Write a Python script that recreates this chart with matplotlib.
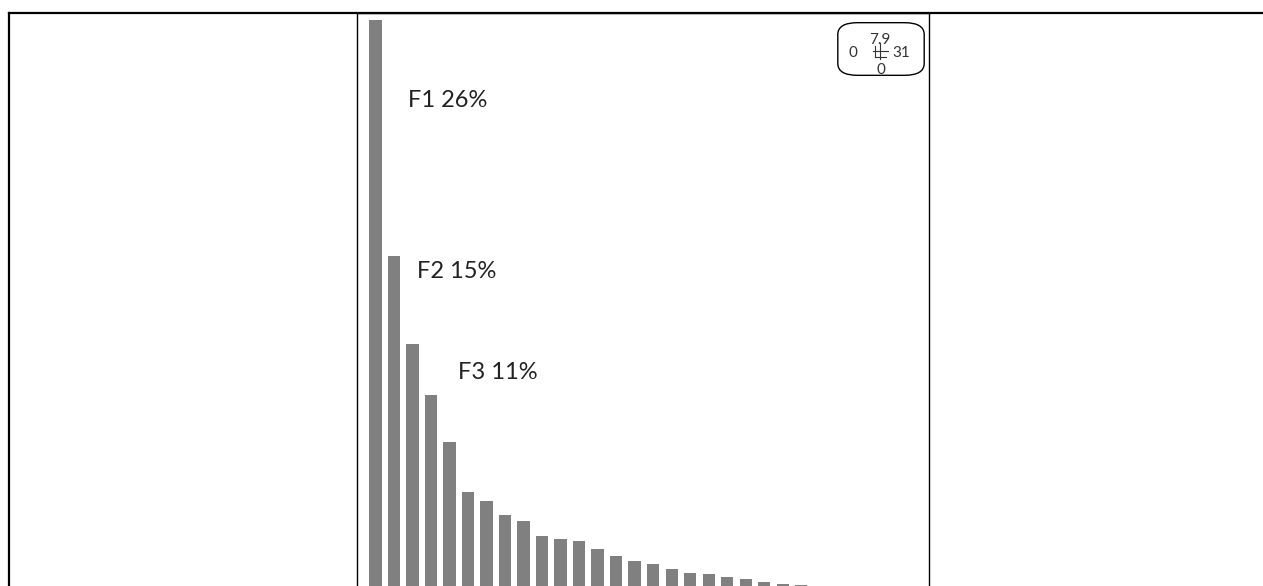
import numpy as np
import matplotlib
matplotlib.use('Agg')
import matplotlib.pyplot as plt
from matplotlib.patches import FancyBboxPatch
from matplotlib.lines import Line2D

# eigenvalues of the analysis (screeplot)
eigvals = [7.90, 4.62, 3.39, 2.69, 2.03, 1.34, 1.21, 1.01, 0.93, 0.73,
           0.68, 0.65, 0.54, 0.44, 0.38, 0.34, 0.26, 0.21, 0.19, 0.15,
           0.13, 0.09, 0.06, 0.04, 0.03, 0.02, 0.02, 0.01, 0.01, 0.01]
n_labelled = 3
# inset annotation texts
inset_top = '7.9'
inset_left = '0'
inset_right = '31'
inset_bottom = '0'

plt.rcParams['font.family'] = ['Lato', 'DejaVu Sans']

W, H = 1263, 586
fig = plt.figure(figsize=(W / 100, H / 100), dpi=100)

# axes box in pixel coordinates (left, top, right, bottom)
l, t, r, b = 357, 13, 929, 588
ax = fig.add_axes([l / W, 1 - b / H, (r - l) / W, (b - t) / H])

x = np.arange(len(eigvals))
ax.bar(x, eigvals, width=0.667, color='#808080', edgecolor='none')
ax.set_xlim(-1, 29.9)
ax.set_ylim(0, 8.0)
ax.set_xticks([]); ax.set_yticks([])
for s in ax.spines.values():
    s.set_linewidth(1.0); s.set_color('black')

total = sum(eigvals)
label_pos = [(1.76, 6.78), (2.24, 4.41), (4.46, 3.0)]
for i in range(n_labelled):
    pct = round(100 * eigvals[i] / total)
    ax.text(label_pos[i][0], label_pos[i][1], f"F{i + 1} {pct}%",
            fontsize=17, color='#222222', ha='left', va='center')

# small inset box top right
ins = fig.add_axes([836 / W, 1 - 77 / H, 90 / W, 56 / H])
ins.set_xlim(0, 1); ins.set_ylim(0, 1); ins.axis('off')
ins.add_patch(FancyBboxPatch((0.02, 0.03), 0.96, 0.94, boxstyle='round,pad=0,rounding_size=0.22',
                             mutation_aspect=90 / 56 * 0.6, fc='white', ec='black', lw=1.0,
                             transform=ins.transAxes))
ins.text(0.49, 0.66, inset_top, fontsize=11, ha='center', va='center', color='#333333')
ins.text(0.19, 0.42, inset_left, fontsize=11, ha='center', va='center', color='#333333')
ins.text(0.72, 0.42, inset_right, fontsize=11, ha='center', va='center', color='#333333')
ins.text(0.50, 0.13, inset_bottom, fontsize=11, ha='center', va='center', color='#333333')
# tiny cross
ins.plot([0.41, 0.58], [0.47, 0.47], color='#333333', lw=0.8)
ins.plot([0.49, 0.49], [0.33, 0.6], color='#333333', lw=0.8)
ins.plot([0.43, 0.56], [0.36, 0.36], color='#333333', lw=0.8)
ins.plot([0.43, 0.43], [0.36, 0.55], color='#333333', lw=0.8)

# page frame lines
fig.add_artist(Line2D([8.5 / W, 1], [1 - 13 / H, 1 - 13 / H], color='black', lw=1.6,
                      transform=fig.transFigure))
fig.add_artist(Line2D([9 / W, 9 / W], [0, 1 - 13 / H], color='black', lw=1.6,
                      transform=fig.transFigure))

fig.savefig('out.png', dpi=100)
